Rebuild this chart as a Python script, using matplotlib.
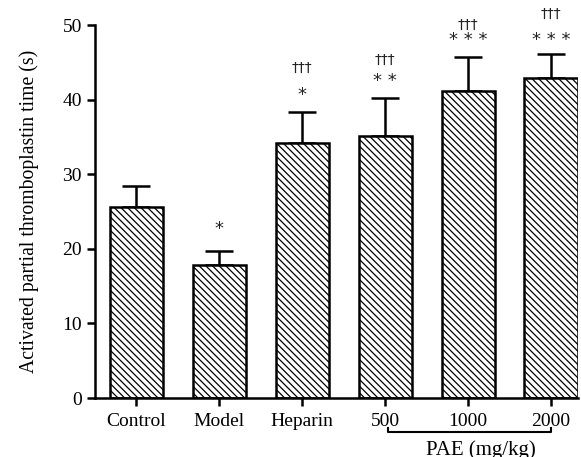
import matplotlib
matplotlib.use("Agg")
import matplotlib.pyplot as plt
import numpy as np

categories = ["Control", "Model", "Heparin", "500", "1000", "2000"]
means = [25.6, 17.8, 34.2, 35.2, 41.2, 42.9]
errors = [2.8, 1.9, 4.1, 5.0, 4.5, 3.2]
stars = ["", "*", "*", "**", "***", "***"]
daggers = ["", "", "†††", "†††", "†††", "†††"]
star_y = [0, 22.6, 40.6, 42.5, 48.0, 48.0]
dagger_y = [0, 0, 44.3, 45.3, 50.0, 51.5]
yticks = [0, 10, 20, 30, 40, 50]
group_label = "PAE (mg/kg)"
ylabel = "Activated partial thromboplastin time (s)"

plt.rcParams['font.family'] = ['Liberation Serif', 'DejaVu Serif']
plt.rcParams['hatch.linewidth'] = 0.9
plt.rcParams['hatch.color'] = '#3a3a3a'

fig = plt.figure(figsize=(5.81, 4.57), dpi=100)
ax = fig.add_axes([0.1635, 0.129, 0.832, 0.816])

x = np.arange(len(categories))
ax.bar(x, means, width=0.64, color='white', edgecolor='black', linewidth=1.8,
       hatch='\\\\\\\\\\', zorder=2)
ax.errorbar(x, means, yerr=[np.zeros(len(means)), errors], fmt='none',
            ecolor='black', elinewidth=1.8, capsize=10, capthick=1.8, zorder=1)

for xi, s, sy in zip(x, stars, star_y):
    if s:
        ax.text(xi, sy, " ".join(s) if len(s) > 1 else s, ha='center', va='center',
                fontsize=13, color='#222222', fontfamily=['DejaVu Sans'])
for xi, d, dy in zip(x, daggers, dagger_y):
    if d:
        ax.text(xi, dy, d, ha='center', va='center', fontsize=10, color='#222222',
                fontfamily=['DejaVu Sans'], clip_on=False)

ax.set_ylim(0, 50)
ax.set_xlim(-0.5, 5.33)
ax.set_yticks(yticks)
ax.set_xticks(x)
ax.set_xticklabels(categories)
ax.tick_params(axis='both', labelsize=14, width=1.8, length=6, direction='out')
ax.tick_params(axis='x', pad=5)
for sp in ['top', 'right']:
    ax.spines[sp].set_visible(False)
for sp in ['left', 'bottom']:
    ax.spines[sp].set_linewidth(1.8)
ax.set_ylabel(ylabel, fontsize=14.2, labelpad=17)

# bracket under PAE groups
trans = ax.get_xaxis_transform()
y_br = -0.092
ax.plot([3.03, 3.03, 5.0, 5.0], [y_br + 0.012, y_br, y_br, y_br + 0.012],
        transform=trans, color='black', lw=1.5, clip_on=False)
ax.text(4.15, -0.113, group_label, transform=trans, ha='center', va='top', fontsize=15)

fig.savefig("out.png", dpi=100)
